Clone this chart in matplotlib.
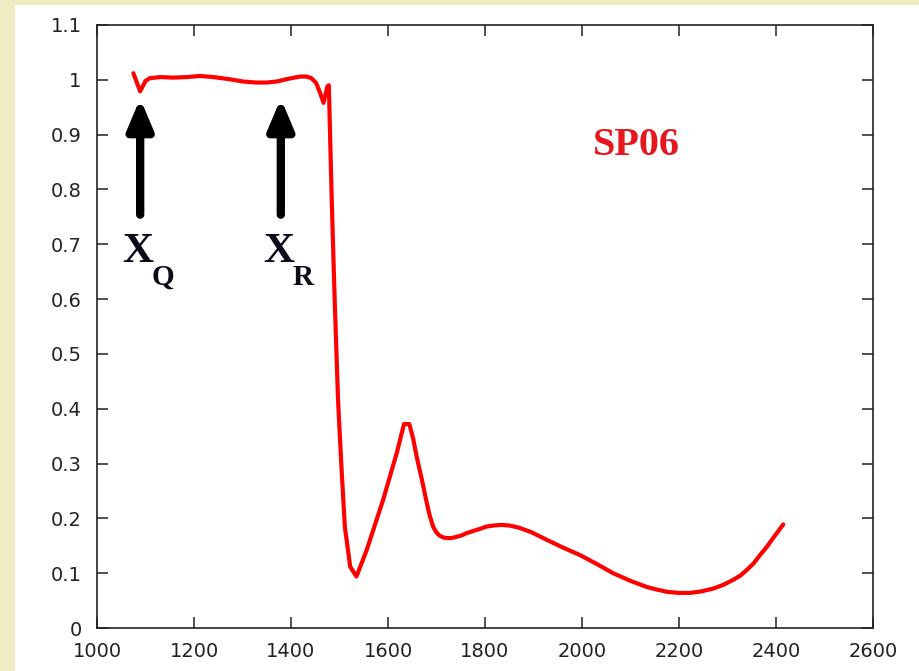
import matplotlib.pyplot as plt
from matplotlib.patches import Rectangle

# spectrum
wavenumber = [1075, 1089, 1100, 1109, 1130, 1157, 1185, 1212, 1240, 1274, 1300,
              1329, 1350, 1371, 1395, 1419, 1432, 1442, 1452, 1460, 1467, 1475,
              1478, 1484, 1490, 1497, 1504, 1511, 1522, 1535, 1556, 1590, 1618,
              1633, 1644, 1652, 1659, 1670, 1680, 1686, 1693, 1700, 1707, 1715,
              1721, 1730, 1740, 1752, 1762, 1776, 1790, 1803, 1818, 1834, 1850,
              1870, 1895, 1927, 1960, 1996, 2030, 2064, 2100, 2133, 2150, 2175,
              2200, 2223, 2247, 2271, 2292, 2312, 2327, 2340, 2354, 2367, 2381,
              2394, 2405, 2415]
intensity = [1.012, 0.979, 0.998, 1.003, 1.005, 1.004, 1.005, 1.007, 1.005, 1.001, 0.997,
             0.995, 0.995, 0.997, 1.002, 1.006, 1.006, 1.003, 0.994, 0.976, 0.958, 0.988,
             0.990, 0.781, 0.600, 0.416, 0.294, 0.185, 0.112, 0.094, 0.142, 0.234, 0.319,
             0.372, 0.372, 0.345, 0.313, 0.270, 0.228, 0.205, 0.185, 0.174, 0.168, 0.165,
             0.164, 0.164, 0.166, 0.169, 0.173, 0.177, 0.181, 0.185, 0.187, 0.188, 0.187,
             0.183, 0.175, 0.161, 0.147, 0.133, 0.117, 0.100, 0.086, 0.075, 0.071, 0.066,
             0.064, 0.064, 0.067, 0.072, 0.079, 0.088, 0.096, 0.106, 0.118, 0.133, 0.148,
             0.164, 0.177, 0.189]

arrow_x = [1089, 1379]
arrow_sub = ['Q', 'R']
arrow_tail = 0.754
arrow_tip = 0.966

xticks = [1000, 1200, 1400, 1600, 1800, 2000, 2200, 2400, 2600]
yticks = [0, 0.1, 0.2, 0.3, 0.4, 0.5, 0.6, 0.7, 0.8, 0.9, 1.0, 1.1]
ytick_labels = ['0', '0.1', '0.2', '0.3', '0.4', '0.5', '0.6', '0.7', '0.8', '0.9', '1', '1.1']

fig = plt.figure(figsize=(9.19, 6.71), dpi=100, facecolor='#efebc3')
# white sheet over the yellow slide background
fig.add_artist(Rectangle((15 / 919, 0), 1, 666 / 671, transform=fig.transFigure,
                         facecolor='white', edgecolor='none', zorder=0))

ax = fig.add_axes([97 / 919, 43 / 671, 776 / 919, 603 / 671])
ax.plot(wavenumber, intensity, color='#ff0000', linewidth=3.0,
        solid_joinstyle='round', solid_capstyle='round')

for xa, sub in zip(arrow_x, arrow_sub):
    ax.annotate('', xy=(xa, arrow_tip), xytext=(xa, arrow_tail),
                arrowprops=dict(arrowstyle='-|>,head_length=0.9,head_width=0.38',
                                mutation_scale=20, color='black', lw=6,
                                joinstyle='round', shrinkA=0, shrinkB=0))
    ax.text(xa - 37, 0.668, 'X', family='Liberation Serif', weight='bold',
            fontsize=31, color='#0b0b1a', ha='left', va='baseline')
    ax.text(xa + 24, 0.626, sub, family='Liberation Serif', weight='bold',
            fontsize=21, color='#0b0b1a', ha='left', va='baseline')

ax.text(2023, 0.863, 'SP06', family='Liberation Serif', weight='bold',
        fontsize=29, color='#e5171f', ha='left', va='baseline')

ax.set_xlim(1000, 2600)
ax.set_ylim(0, 1.1)
ax.set_xticks(xticks)
ax.set_xticklabels([str(t) for t in xticks])
ax.set_yticks(yticks)
ax.set_yticklabels(ytick_labels)
ax.tick_params(direction='in', length=8, width=1.1, top=True, right=True,
               labelsize=14, labelcolor='#222222', color='#222222')
ax.tick_params(axis='x', pad=10)
ax.tick_params(axis='y', pad=11)
for sp in ax.spines.values():
    sp.set_linewidth(1.2)
    sp.set_color('#222222')

fig.savefig('out.png', dpi=100, facecolor=fig.get_facecolor())
